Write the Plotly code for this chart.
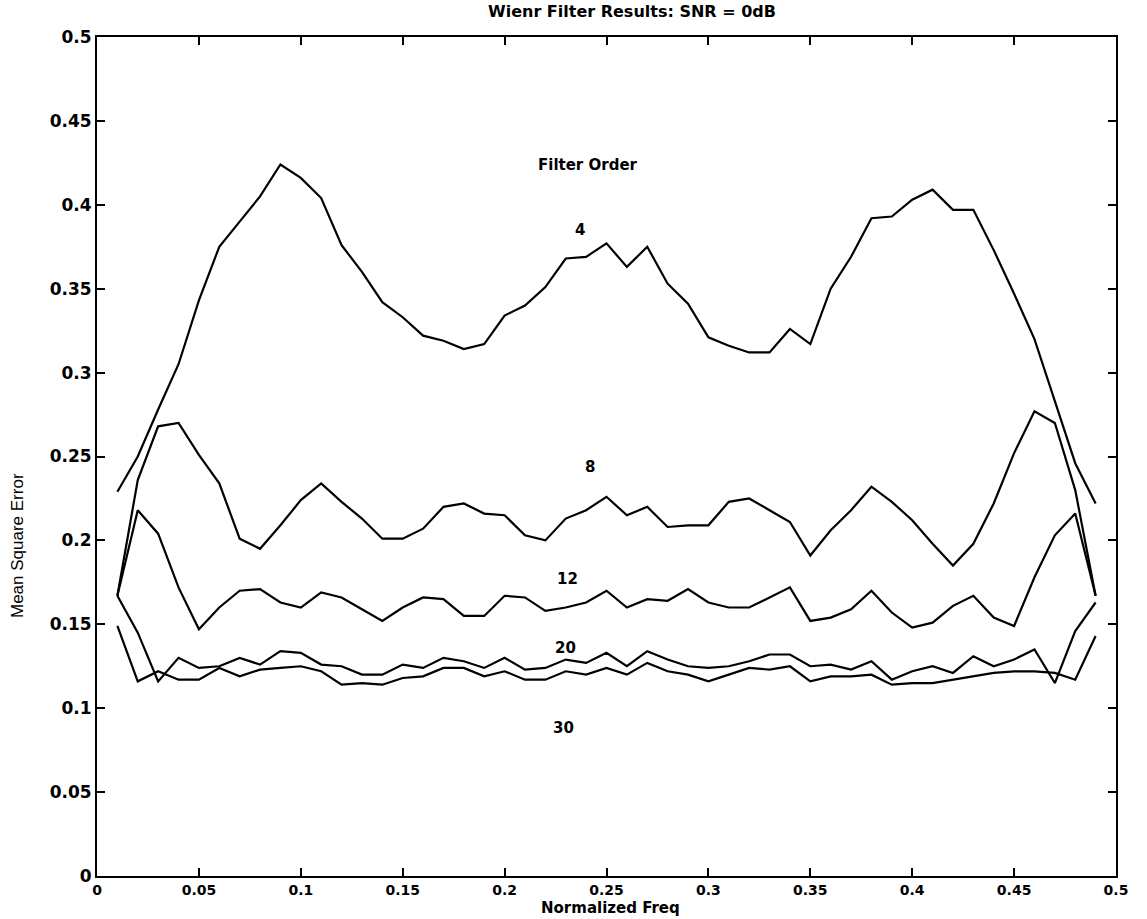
import plotly.graph_objects as go

freq = [round(0.01 * i, 2) for i in range(1, 50)]

order4 = [0.229, 0.250, 0.278, 0.305, 0.343, 0.375, 0.390, 0.405, 0.424, 0.416,
          0.404, 0.376, 0.360, 0.342, 0.333, 0.322, 0.319, 0.314, 0.317, 0.334,
          0.340, 0.351, 0.368, 0.369, 0.377, 0.363, 0.375, 0.353, 0.341, 0.321,
          0.316, 0.312, 0.312, 0.326, 0.317, 0.350, 0.369, 0.392, 0.393, 0.403,
          0.409, 0.397, 0.397, 0.373, 0.347, 0.320, 0.283, 0.246, 0.222]

order8 = [0.167, 0.236, 0.268, 0.270, 0.251, 0.234, 0.201, 0.195, 0.209, 0.224,
          0.234, 0.223, 0.213, 0.201, 0.201, 0.207, 0.220, 0.222, 0.216, 0.215,
          0.203, 0.200, 0.213, 0.218, 0.226, 0.215, 0.220, 0.208, 0.209, 0.209,
          0.223, 0.225, 0.218, 0.211, 0.191, 0.206, 0.218, 0.232, 0.223, 0.212,
          0.198, 0.185, 0.198, 0.222, 0.252, 0.277, 0.270, 0.230, 0.167]

order12 = [0.167, 0.218, 0.204, 0.172, 0.147, 0.160, 0.170, 0.171, 0.163, 0.160,
           0.169, 0.166, 0.159, 0.152, 0.160, 0.166, 0.165, 0.155, 0.155, 0.167,
           0.166, 0.158, 0.160, 0.163, 0.170, 0.160, 0.165, 0.164, 0.171, 0.163,
           0.160, 0.160, 0.166, 0.172, 0.152, 0.154, 0.159, 0.170, 0.157, 0.148,
           0.151, 0.161, 0.167, 0.154, 0.149, 0.178, 0.203, 0.216, 0.167]

order20 = [0.167, 0.145, 0.116, 0.130, 0.124, 0.125, 0.130, 0.126, 0.134, 0.133,
           0.126, 0.125, 0.120, 0.120, 0.126, 0.124, 0.130, 0.128, 0.124, 0.130,
           0.123, 0.124, 0.129, 0.127, 0.133, 0.125, 0.134, 0.129, 0.125, 0.124,
           0.125, 0.128, 0.132, 0.132, 0.125, 0.126, 0.123, 0.128, 0.117, 0.122,
           0.125, 0.121, 0.131, 0.125, 0.129, 0.135, 0.115, 0.146, 0.163]

order30 = [0.149, 0.116, 0.122, 0.117, 0.117, 0.124, 0.119, 0.123, 0.124, 0.125,
           0.122, 0.114, 0.115, 0.114, 0.118, 0.119, 0.124, 0.124, 0.119, 0.122,
           0.117, 0.117, 0.122, 0.120, 0.124, 0.120, 0.127, 0.122, 0.120, 0.116,
           0.120, 0.124, 0.123, 0.125, 0.116, 0.119, 0.119, 0.120, 0.114, 0.115,
           0.115, 0.117, 0.119, 0.121, 0.122, 0.122, 0.121, 0.117, 0.143]

labels = ["Filter Order", "4", "8", "12", "20", "30"]
label_x = [0.241, 0.237, 0.242, 0.231, 0.230, 0.229]
label_y = [0.424, 0.385, 0.244, 0.177, 0.136, 0.088]

xticks = [0, 0.05, 0.1, 0.15, 0.2, 0.25, 0.3, 0.35, 0.4, 0.45, 0.5]
xtick_text = ["0", "0.05", "0.1", "0.15", "0.2", "0.25", "0.3", "0.35", "0.4", "0.45", "0.5"]
yticks = xticks
ytick_text = xtick_text

FONT = "DejaVu Sans, Liberation Sans, Arial"

fig = go.Figure()
for ys in [order4, order8, order12, order20, order30]:
    fig.add_trace(go.Scatter(x=freq, y=ys, mode="lines",
                             line=dict(color="black", width=2.2),
                             showlegend=False, hoverinfo="skip"))

for t, xx, yy in zip(labels, label_x, label_y):
    fig.add_annotation(x=xx, y=yy, text=t, showarrow=False,
                       font=dict(family=FONT, size=15, color="black", weight="bold"))

# title and axis titles
fig.add_annotation(xref="paper", yref="paper", x=0.525, y=1.0298,
                   text="Wienr Filter Results: SNR = 0dB", showarrow=False,
                   xanchor="center", yanchor="middle",
                   font=dict(family=FONT, size=16, color="black", weight="bold"))
fig.add_annotation(xref="paper", yref="paper", x=0.504, y=-0.0501,
                   text="Normalized Freq", showarrow=False,
                   xanchor="center", yanchor="bottom", borderpad=0,
                   font=dict(family=FONT, size=15, color="black", weight="bold"))
fig.add_annotation(xref="paper", yref="paper", x=-0.0785, y=0.3933,
                   text="Mean Square Error", showarrow=False, textangle=-90,
                   xanchor="center", yanchor="middle",
                   font=dict(family="Liberation Sans Narrow, Liberation Sans, Arial",
                             size=17, color="black"))

axis_common = dict(
    showgrid=False, zeroline=False, showline=True, linecolor="black", linewidth=2,
    mirror="ticks", ticks="inside", ticklen=8, tickwidth=1.5, tickcolor="black",
)

fig.update_layout(
    width=1147, height=919,
    margin=dict(l=97, r=31, t=37, b=43),
    paper_bgcolor="white", plot_bgcolor="white",
    xaxis=dict(range=[0, 0.5], tickvals=xticks, ticktext=xtick_text,
               tickfont=dict(family=FONT, size=14, color="black", weight="bold"),
               **axis_common),
    yaxis=dict(range=[0, 0.5], tickvals=yticks, ticktext=ytick_text,
               tickfont=dict(family=FONT, size=17, color="black", weight="bold"),
               **axis_common),
)

fig.write_html("out.html")
